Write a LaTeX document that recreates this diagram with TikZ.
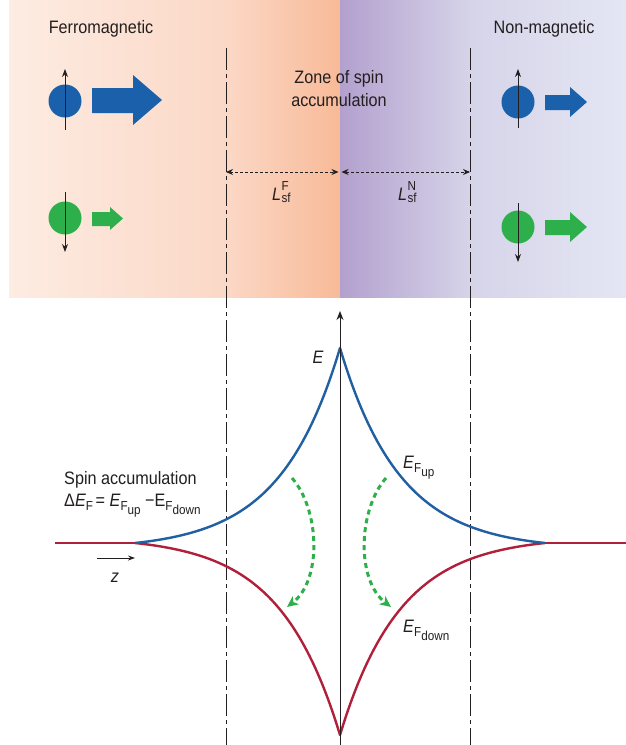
\documentclass[tikz,border=0pt]{standalone}
\usepackage{fontspec}
\setmainfont{Liberation Sans}[FakeStretch=0.9]
\usetikzlibrary{arrows.meta}
\definecolor{txt}{HTML}{231F20}
\definecolor{spblue}{HTML}{1A60AA}
\definecolor{spgreen}{HTML}{2DB04B}
\definecolor{cblue}{HTML}{2060A2}
\definecolor{cred}{HTML}{B1203A}
\definecolor{pk0}{HTML}{FDECE2}
\definecolor{pk1}{HTML}{FBD8C6}
\definecolor{pk2}{HTML}{F8BA98}
\definecolor{pu0}{HTML}{B3A0CE}
\definecolor{pu1}{HTML}{D6D4E9}
\definecolor{pu2}{HTML}{E4E6F4}
\newcommand\smallfs{\fontsize{13}{14}\selectfont}
\newcommand\Lsf[1]{\textit{L}\kern0.3pt\rlap{\raisebox{9.5pt}{\smallfs #1}}\raisebox{-2.5pt}{\smallfs sf}}
\newcommand\EFsub[1]{\textit{E}\raisebox{-4pt}{\smallfs F\raisebox{-4pt}{#1}}}
\newcommand\EFup[1]{E\raisebox{-4pt}{\smallfs F\raisebox{-4pt}{#1}}}
\begin{document}
\begin{tikzpicture}[x=1pt,y=-1pt,
  lbl/.style={inner sep=0pt, anchor=base, text=txt, font=\fontsize{18}{22}\selectfont},
  lblw/.style={lbl, anchor=base west},
  dot/.style={circle, minimum size=33pt, inner sep=0pt},
  spin/.style={line width=1pt, txt, -{Stealth[length=8pt,width=6pt]}},
  dashdot/.style={line width=1pt, txt, dash pattern=on 22pt off 4pt on 4pt off 4pt},
  dim/.style={line width=0.9pt, txt, dash pattern=on 3pt off 2pt, {Stealth[length=7pt,width=6pt]}-{Stealth[length=7pt,width=6pt]}},
  curve/.style={line width=2.4pt, line join=round},
  hop/.style={spgreen, line width=3pt, dash pattern=on 5pt off 4pt, -{Stealth[length=11pt,width=10pt,inset=3pt]}}
]
\useasboundingbox (0,0) rectangle (626,745);
\fill[white] (0,0) rectangle (626,745);
% background band
\shade[left color=pk0,right color=pk1] (9,0) rectangle (226.5,297);
\shade[left color=pk1,right color=pk2] (226,0) rectangle (340,297);
\shade[left color=pu0,right color=pu1] (340,0) rectangle (470.5,297);
\shade[left color=pu1,right color=pu2] (470,0) rectangle (626,297);
% dash-dot boundaries
\coordinate (dlt) at (226,48); \coordinate (dlb) at (226,745);
\coordinate (drt) at (470,48); \coordinate (drb) at (470,745);
\draw[dashdot] (dlt) -- (dlb);
\draw[dashdot] (drt) -- (drb);
% titles
\node[lbl] (ferro) at (101,33) {Ferromagnetic};
\node[lbl] (nonm) at (544,33) {Non-magnetic};
\node[lbl] (zone1) at (339,83) {Zone of spin};
\node[lbl] (zone2) at (339,106) {accumulation};
% spins, left
\node[dot, fill=spblue] (bl) at (65,101) {};
\draw[spin] (65,130) -- (65,69);
\fill[spblue] (92,88) -- (133,88) -- (133,75) -- (162,100) -- (133,125) -- (133,113) -- (92,113) -- cycle;
\node[dot, fill=spgreen] (gl) at (65,218) {};
\draw[spin] (65,192) -- (65,252);
\fill[spgreen] (92,212) -- (110,212) -- (110,207) -- (123,218.5) -- (110,230) -- (110,226) -- (92,226) -- cycle;
% spins, right
\node[dot, fill=spblue] (br) at (518,102) {};
\draw[spin] (518,128) -- (518,69);
\fill[spblue] (545,95) -- (570,95) -- (570,87) -- (587,102) -- (570,117) -- (570,110) -- (545,110) -- cycle;
\node[dot, fill=spgreen] (gr) at (518,227) {};
\draw[spin] (518,203) -- (518,262);
\fill[spgreen] (545,220) -- (570,220) -- (570,212) -- (587,227) -- (570,242) -- (570,235) -- (545,235) -- cycle;
% spin-flip lengths
\coordinate (lF) at (226,172); \coordinate (mid) at (340,172); \coordinate (rN) at (470,172);
\draw[dim] (lF) -- ([xshift=-1.5pt]mid);
\draw[dim] ([xshift=1.5pt]mid) -- (rN);
\node[lbl, anchor=base west] (LF) at (272,200) {\Lsf{F}};
\node[lbl, anchor=base west] (LN) at (398,200) {\Lsf{N}};
% energy curves
\draw[cred, curve] (55,543) -- (136,543);
\draw[cred, curve] (544,543) -- (626,543);
\draw[cred, curve] plot[domain=-205:205, samples=201] ({340+\x},{543+192*(exp(-abs(\x)/60)-0.0329)/(1-0.0329)});
\draw[cblue, curve] plot[domain=-205:205, samples=201] ({340+\x},{543-195*(exp(-abs(\x)/60)-0.0329)/(1-0.0329)});
% axis
\coordinate (axb) at (340,745); \coordinate (axt) at (340,311);
\draw[line width=1pt, txt, -{Stealth[length=9pt,width=7pt]}] (axb) -- (axt);
% spin-flip hops
\coordinate (h1s) at (292,478); \coordinate (h1e) at (287,607);
\coordinate (h2s) at (386,478); \coordinate (h2e) at (391,607);
\draw[hop] (h1s) .. controls (320,510) and (322,580) .. (h1e);
\draw[hop] (h2s) .. controls (358,510) and (356,580) .. (h2e);
% labels
\node[lbl] (E) at (318,363) {\textit{E}};
\node[lblw] (Eup) at (403,468) {\EFsub{up}};
\node[lblw] (Edn) at (403,632) {\EFsub{down}};
\node[lblw] (sa1) at (64,484) {Spin accumulation};
\node[lblw] (sa2) at (64,506) {Δ\EFsub{}\kern-2pt\ = \EFsub{up} −\EFup{down}};
% z direction
\coordinate (zs) at (97,558); \coordinate (ze) at (135,558);
\draw[line width=1pt, txt, -{Stealth[length=7pt,width=5pt]}] (zs) -- (ze);
\node[lbl] (z) at (115,582) {\textit{z}};
\end{tikzpicture}
\end{document}
